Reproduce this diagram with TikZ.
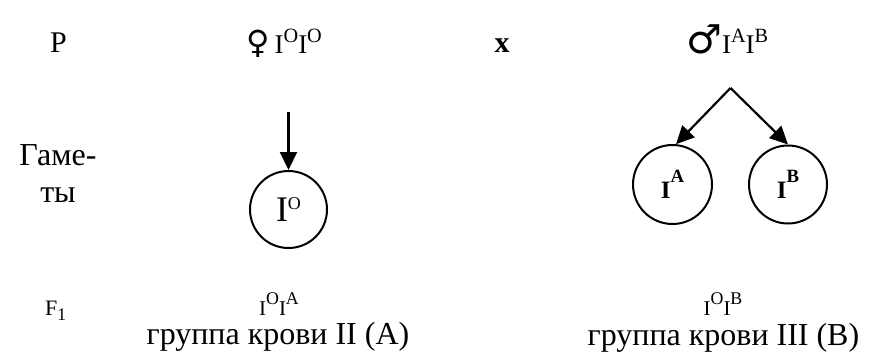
\documentclass[tikz,border=0pt]{standalone}
\usepackage{fontspec}
\setmainfont{Liberation Serif}
\newfontfamily\symfont{DejaVu Sans}
\usetikzlibrary{arrows.meta}
\newcommand{\gsup}[3]{\raisebox{#2}{\scalebox{#3}{#1}}}
\begin{document}
\begin{tikzpicture}[x=1pt,y=-1pt,
  lbl/.style={inner sep=0pt},
  gam/.style={circle, draw, line width=2pt, minimum size=77pt, inner sep=0pt},
  arr/.style={line width=2.2pt, -{Triangle[length=18pt,width=17pt]}}]
\useasboundingbox[fill=white] (0,0) rectangle (877,356);
% row P
\node[lbl, anchor=base west, font=\fontsize{30}{36}\selectfont] (P) at (50,52) {P};
\node[lbl, anchor=base west, font=\fontsize{27}{32}\selectfont] (fem) at (246,53)
  {{\symfont\fontsize{32}{36}\selectfont ♀}\hspace{5pt}I\gsup{O}{0.4em}{0.75}I\gsup{O}{0.4em}{0.75}};
\node[lbl, anchor=base, font=\fontsize{30}{36}\selectfont\bfseries] (cross) at (502,52) {x};
\node[lbl, anchor=base west, font=\fontsize{27}{32}\selectfont] (male) at (686,53)
  {{\symfont\fontsize{40}{44}\selectfont ♂}I\gsup{A}{0.4em}{0.75}I\gsup{B}{0.4em}{0.75}};
% gametes
\node[lbl, align=center, anchor=base, font=\fontsize{32}{37}\selectfont] (gam) at (58,202) {Гаме-\\ты};
\node[gam] (GO) at (288.5,209.5) {\fontsize{36}{40}\selectfont I\gsup{O}{0.33em}{0.5}};
\node[gam, minimum size=79pt] (GA) at (672.5,184.5) {\fontsize{25}{28}\selectfont\bfseries I\gsup{A}{0.62em}{0.75}};
\node[gam, minimum size=78pt] (GB) at (788,184.5) {\fontsize{25}{28}\selectfont\bfseries I\gsup{B}{0.62em}{0.75}};
\coordinate (topL) at (288.5,112);
\coordinate (apex) at (730.5,88);
\draw[arr] (topL) -- (GO.north);
\draw[arr] (apex) -- (GA.85);
\draw[arr] (apex) -- (GB.north);
% F1
\node[lbl, anchor=base west, font=\fontsize{22}{26}\selectfont] (F) at (45,315) {F\gsup{1}{-0.25em}{0.8}};
\node[lbl, anchor=base, font=\fontsize{21}{24}\selectfont] (o1) at (279,315) {I\gsup{O}{0.5em}{0.85}I\gsup{A}{0.5em}{0.85}};
\node[lbl, anchor=base, font=\fontsize{21}{24}\selectfont] (o2) at (723,315) {I\gsup{O}{0.5em}{0.85}I\gsup{B}{0.5em}{0.85}};
\node[lbl, anchor=base, font=\fontsize{32}{36}\selectfont] (g1) at (278,344) {группа крови II (A)};
\node[lbl, anchor=base, font=\fontsize{32}{36}\selectfont] (g2) at (723.5,345) {группа крови III (B)};
\end{tikzpicture}
\end{document}
